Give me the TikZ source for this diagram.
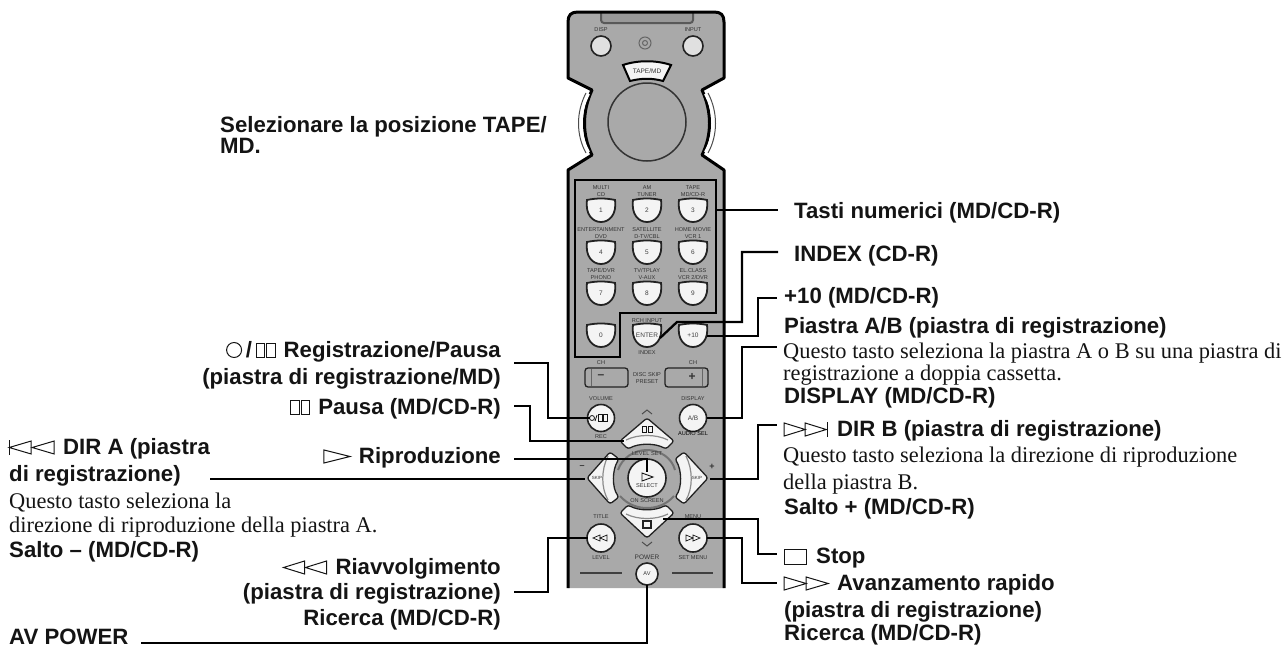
\documentclass[tikz,border=0pt]{standalone}
\usepackage{fontspec}
\setmainfont{Liberation Sans}
\newfontfamily\serifx{Liberation Serif}
\definecolor{bodygrey}{HTML}{A9A9A9}
\definecolor{ink}{HTML}{141414}
\definecolor{keyedge}{HTML}{222222}
\definecolor{keyfill}{HTML}{F4F4F4}
\newcommand\icon[2]{\tikz[baseline=0pt,x=1pt,y=1pt,line width=1pt,draw=ink]{\useasboundingbox (0,-0.5) rectangle (#1,12);#2}}
\newcommand\icrew{\icon{43}{\draw (21,0)--(0,6.5)--(21,13)--cycle;\draw (43,0)--(22,6.5)--(43,13)--cycle;}}
\newcommand\icskipb{\icon{46}{\draw (0,-1)--(0,14);\draw (0,6.5)--(22,13)--(22,0)--cycle;\draw (23,6.5)--(45,13)--(45,0)--cycle;}}
\newcommand\icplay{\icon{26}{\draw (0,0)--(26,6.5)--(0,13)--cycle;}}
\newcommand\icff{\icon{44}{\draw (0,0)--(22,6.5)--(0,13)--cycle;\draw (22,0)--(44,6.5)--(22,13)--cycle;}}
\newcommand\icskipf{\icon{44}{\draw (0,0)--(21,6.5)--(0,13)--cycle;\draw (21,0)--(42,6.5)--(21,13)--cycle;\draw (43,-1)--(43,14);}}
\newcommand\icstop{\icon{23}{\draw (0.5,-1) rectangle (22.5,14);}}
\newcommand\icpause{\icon{20}{\draw (0.5,0) rectangle (9,14);\draw (11,0) rectangle (19.5,14);}}
\newcommand\icrec{\icon{16}{\draw (8,7) circle (7.5);}}
\tikzset{
  bold/.style={font=\fontsize{22.2}{24}\selectfont\bfseries,text=ink,inner sep=0pt},
  lab/.style={bold,anchor=base west},
  labr/.style={bold,anchor=base east},
  ser/.style={font=\fontsize{22.4}{24}\serifx\selectfont,text=ink,inner sep=0pt,anchor=base west},
  lead/.style={draw=black,line width=2.3pt,line join=miter},
  tiny/.style={font=\fontsize{5.6}{6.2}\selectfont,text=black!80,inner sep=0pt,align=center},
  keytxt/.style={font=\fontsize{6.5}{7}\selectfont,text=black!75,inner sep=0pt,align=center},
  rkey/.style={circle,draw=keyedge,line width=1.6pt,fill=keyfill,inner sep=0pt,minimum size=#1},
  pad/.style={draw=keyedge,line width=1.3pt,fill=keyfill,rounded corners=2.5pt},
  padarc/.style={draw=black!45,line width=1.2pt},
}
% numeric key: name, x, y, text
\newcommand\numkey[4]{%
  \path[draw=keyedge,line width=1.8pt,fill=keyfill] (#2-14,#3-10) .. controls (#2-16,#3+5) and (#2-8,#3+12) .. (#2,#3+12) .. controls (#2+8,#3+12) and (#2+16,#3+5) .. (#2+14,#3-10) .. controls (#2+5,#3-12) and (#2-5,#3-12) .. cycle;
  \node[keytxt] (#1) at (#2,#3) {#4};
}
\begin{document}
\begin{tikzpicture}[x=1pt,y=-1pt]
\useasboundingbox (0,0) rectangle (1287,648);
% body
\path[fill=bodygrey] (568,588) -- (568,170) -- (592,155) .. controls (582,135) and (582,112) .. (592,90) -- (568,78) -- (568,22) .. controls (568,15) and (571,12) .. (578,12) -- (714,12) .. controls (721,12) and (724,15) .. (724,22) -- (724,78) -- (702,90) .. controls (712,112) and (712,135) .. (702,155) -- (724,170) -- (724,588) -- cycle;
\draw[black!65,line width=2pt,fill=black!40,rounded corners=3pt] (601,12) -- (601,23) -- (693,23) -- (693,12);
\draw[black,line width=3pt,line join=round] (568,588) -- (568,170) -- (592,155) .. controls (582,135) and (582,112) .. (592,90) -- (568,78) -- (568,22) .. controls (568,15) and (571,12) .. (578,12) -- (714,12) .. controls (721,12) and (724,15) .. (724,22) -- (724,78) -- (702,90) .. controls (712,112) and (712,135) .. (702,155) -- (724,170) -- (724,588);
% side grip
\draw[white,line width=2pt] (589,94) .. controls (579,112) and (579,135) .. (589,152);
\draw[black!70,line width=1pt] (586,93) .. controls (576,112) and (576,135) .. (586,153);
\draw[white,line width=2pt] (705,94) .. controls (715,112) and (715,135) .. (705,152);
\draw[black!70,line width=1pt] (708,93) .. controls (718,112) and (718,135) .. (708,153);
% top keys
\node[tiny] at (601,30) {DISP};
\node[tiny] at (693,30) {INPUT};
\node[rkey=20pt,fill=black!12] (disp) at (601,46) {};
\node[rkey=20pt,fill=black!12] (inp) at (693,46) {};
\draw[black!60,line width=1pt] (645,43) circle (6) (645,43) circle (2.5);
\path[draw=black,line width=2pt,fill=keyfill] (623,65) .. controls (638,60) and (656,60) .. (671,65) -- (663,81) .. controls (652,78) and (642,78) .. (630,81) -- cycle;
\node[font=\fontsize{6.5}{7}\selectfont,text=black!80,inner sep=0pt] (tape) at (647,71) {TAPE/MD};
\draw[black!80,line width=1.5pt,fill=bodygrey] (647,122) circle (39);
% numeric block
\draw[black,line width=2.6pt,line join=miter] (575,180) -- (716,180) -- (716,313) -- (620,313) -- (620,357) -- (575,357) -- cycle;
\node[tiny] at (601,191) {MULTI\\CD};
\node[tiny] at (647,191) {AM\\TUNER};
\node[tiny] at (693,191) {TAPE\\MD/CD-R};
\node[tiny] at (601,233) {ENTERTAINMENT\\DVD};
\node[tiny] at (647,233) {SATELLITE\\D-TV/CBL};
\node[tiny] at (693,233) {HOME MOVIE\\VCR 1};
\node[tiny] at (601,274) {TAPE/DVR\\PHONO};
\node[tiny] at (647,274) {TV/TPLAY\\V-AUX};
\node[tiny] at (693,274) {EL.CLASS\\VCR 2/DVR};
\numkey{k1}{601}{210}{1}
\numkey{k2}{647}{210}{2}
\numkey{k3}{693}{210}{3}
\numkey{k4}{601}{252}{4}
\numkey{k5}{647}{252}{5}
\numkey{k6}{693}{252}{6}
\numkey{k7}{601}{293}{7}
\numkey{k8}{647}{293}{8}
\numkey{k9}{693}{293}{9}
\numkey{k0}{601}{335}{0}
\numkey{kenter}{647}{335}{ENTER}
\numkey{kten}{693}{335}{+10}
\node[tiny] at (647,321) {RCH INPUT};
\node[tiny] at (647,353) {INDEX};
% CH rockers
\node[tiny] at (601,363) {CH};
\node[tiny] at (693,363) {CH};
\draw[keyedge,line width=1.3pt,rounded corners=3pt] (585,368) rectangle (628,387);
\draw[black!60,line width=.8pt] (591,369) -- (591,386);
\draw[keyedge,line width=1.3pt,rounded corners=3pt] (665,368) rectangle (708,387);
\draw[black!60,line width=.8pt] (702,369) -- (702,386);
\node[font=\fontsize{12}{12}\selectfont\bfseries,text=black!80,inner sep=0pt] at (601,377) {–};
\node[font=\fontsize{12}{12}\selectfont\bfseries,text=black!80,inner sep=0pt] at (692,377) {+};
\node[tiny] at (647,378) {DISC SKIP\\PRESET};
% lower keys
\node[tiny] at (601,399) {VOLUME};
\node[tiny] at (693,399) {DISPLAY};
\node[rkey=27pt] (vol) at (601,418) {};
\node[rkey=27pt] (ab) at (693,418) {};
\node[keytxt] at (693,418) {A/B};
\node[tiny] at (601,437) {REC};
\node[tiny,text=black] at (693,434) {AUDIO SEL};
\draw[ink,line width=.8pt] (592,418) circle (2.5) (595,421) -- (597,415);
\draw[ink,line width=.8pt] (598,414.5) rectangle (602,421.5) (603,414.5) rectangle (607,421.5);
% D-pad
\draw[black!70,line width=1pt] (642,414) -- (647,410) -- (652,414);
\draw[black!70,line width=1pt] (642,542) -- (647,546) -- (652,542);
\draw[black!55,line width=2pt] (618,470) .. controls (622,458) and (634,450) .. (647,450) .. controls (660,450) and (672,458) .. (675,470);
\draw[black!55,line width=2pt] (620,496) .. controls (628,505) and (638,508) .. (647,508) .. controls (656,508) and (666,505) .. (674,496);
\path[pad] (647,418) -- (674,441) -- (666,449) .. controls (655,443) and (639,443) .. (628,449) -- (620,441) -- cycle;
\draw[padarc] (626,440) .. controls (638,434) and (656,434) .. (668,440);
\path[pad] (647,538) -- (674,513) -- (666,505) .. controls (655,511) and (639,511) .. (628,505) -- (620,513) -- cycle;
\draw[padarc] (626,514) .. controls (638,520) and (656,520) .. (668,514);
\path[pad] (587,478) -- (610,452) -- (619,459) .. controls (612,470) and (612,488) .. (619,497) -- (610,504) -- cycle;
\draw[padarc] (608,456) .. controls (601,470) and (601,488) .. (608,500);
\path[pad] (708,478) -- (684,452) -- (675,459) .. controls (682,470) and (682,488) .. (675,497) -- (684,504) -- cycle;
\draw[padarc] (686,456) .. controls (693,470) and (693,488) .. (686,500);
\node[tiny] (pup) at (647,430) {};
\draw[ink,line width=.8pt] (642,426) rectangle (646,432) (648,426) rectangle (652,432);
\node[tiny,font=\fontsize{4.5}{5}\selectfont] (pleft) at (597,478) {SKIP};
\node[tiny,font=\fontsize{4.5}{5}\selectfont] (pright) at (697,478) {SKIP};
\node[tiny] at (647,454) {LEVEL SET};
\node[tiny] at (647,501) {ON SCREEN};
\node[tiny,font=\fontsize{9}{9}\selectfont\bfseries] at (582,467) {–};
\node[tiny,font=\fontsize{9}{9}\selectfont\bfseries] at (712,467) {+};
\node[rkey=38pt] (play) at (647,478) {};
\draw[ink,line width=.9pt] (642,473) -- (653,477) -- (642,481) -- cycle;
\node[tiny] at (647,486) {SELECT};
\draw[keyedge,line width=1.2pt,fill=keyfill] (643,521) rectangle (651,528);
\node[inner sep=0pt] (pstop) at (648,523) {};
\node[tiny] at (601,517) {TITLE};
\node[tiny] at (693,517) {MENU};
\node[rkey=28pt] (title) at (601,538) {};
\node[rkey=28pt] (menu) at (693,538) {};
\draw[ink,line width=.7pt] (600,535) -- (593,538) -- (600,541) -- cycle (607,535) -- (600,538) -- (607,541) -- cycle;
\draw[ink,line width=.7pt] (686,535) -- (693,538) -- (686,541) -- cycle (693,535) -- (700,538) -- (693,541) -- cycle;
\node[tiny] at (601,558) {LEVEL};
\node[tiny] at (693,558) {SET MENU};
\node[tiny,font=\fontsize{6.5}{7}\selectfont] at (647,557) {POWER};
\node[rkey=22pt] (av) at (647,574) {};
\node[tiny] at (647,574) {AV};
\draw[black!75,line width=1.2pt] (580,573) -- (622,573) (672,573) -- (713,573);
% labels
\node[lab] at (220,132) {Selezionare la posizione TAPE/};
\node[lab] at (220,153) {MD.};
\node[lab] (tasti) at (794,218) {Tasti numerici (MD/CD-R)};
\node[lab] (index) at (794,261) {INDEX (CD-R)};
\node[lab] (ten) at (784,303) {+10 (MD/CD-R)};
\node[lab] at (784,333) {Piastra A/B (piastra di registrazione)};
\node[ser] (abtxt) at (783,358) {Questo tasto seleziona la piastra A o B su una piastra di};
\node[ser] at (783,380) {registrazione a doppia cassetta.};
\node[lab] at (784,403) {DISPLAY (MD/CD-R)};
\node[lab] (dirb) at (784,436) {\icskipf\hspace{9pt}DIR B (piastra di registrazione)};
\node[ser] at (783,462) {Questo tasto seleziona la direzione di riproduzione};
\node[ser] at (783,489) {della piastra B.};
\node[lab] at (784,514) {Salto + (MD/CD-R)};
\node[lab] (stop) at (784,563) {\icstop\hspace{9pt}Stop};
\node[lab] (ff) at (784,590) {\icff\hspace{9pt}Avanzamento rapido};
\node[lab] at (784,617) {(piastra di registrazione)};
\node[lab] at (784,640) {Ricerca (MD/CD-R)};
\node[labr] (rec) at (501,357) {\icrec\,/\,\icpause\hspace{8pt}Registrazione/Pausa};
\node[labr] at (501,384) {(piastra di registrazione/MD)};
\node[labr] (pau) at (501,414) {\icpause\hspace{8pt}Pausa (MD/CD-R)};
\node[labr] (rip) at (501,463) {\icplay\hspace{9pt}Riproduzione};
\node[lab] at (9,454) {\icskipb\hspace{8pt}DIR A (piastra};
\node[lab] (dira) at (9,481) {di registrazione)};
\node[ser] at (9,508) {Questo tasto seleziona la};
\node[ser] at (9,532) {direzione di riproduzione della piastra A.};
\node[lab] at (9,557) {Salto – (MD/CD-R)};
\node[labr] at (501,574) {\icrew\hspace{9pt}Riavvolgimento};
\node[labr] (riav) at (501,599) {(piastra di registrazione)};
\node[labr] at (501,625) {Ricerca (MD/CD-R)};
\node[lab] (avp) at (9,644) {AV POWER};
% connectors
\coordinate (cTasti) at (778,210);
\coordinate (cIndex) at (778,252);
\coordinate (cTen) at (777,298);
\coordinate (cAb) at (777,347);
\coordinate (cDirb) at (777,425);
\coordinate (cStop) at (777,554);
\coordinate (cFf) at (777,583);
\coordinate (cRec) at (514,363);
\coordinate (cPau) at (514,406);
\coordinate (cRip) at (514,459);
\coordinate (cDira) at (210,479);
\coordinate (cRiav) at (514,592);
\coordinate (cAv) at (141,643);
\draw[lead] (716,210) -- (cTasti);
\draw[lead] (660,338) -- (677,322) -- (742,322) -- (742,252) -- (cIndex);
\draw[lead] (707,336) -- (758,336) -- (758,298) -- (cTen);
\draw[lead] (707,418) -- (742,418) -- (742,347) -- (cAb);
\draw[lead] (710,479) -- (758,479) -- (758,425) -- (cDirb);
\draw[lead] (663,519) -- (758,519) -- (758,554) -- (cStop);
\draw[lead] (707,538) -- (742,538) -- (742,583) -- (cFf);
\draw[lead] (cRec) -- (548,363) -- (548,418) -- (590,418);
\draw[lead] (cPau) -- (530,406) -- (530,441) -- (624,441);
\draw[lead] (cRip) -- (647,459) -- (647,472);
\draw[lead] (cDira) -- (585,479);
\draw[lead] (cRiav) -- (548,592) -- (548,538) -- (588,538);
\draw[lead] (cAv) -- (647,643) -- (647,585);
\end{tikzpicture}
\end{document}
